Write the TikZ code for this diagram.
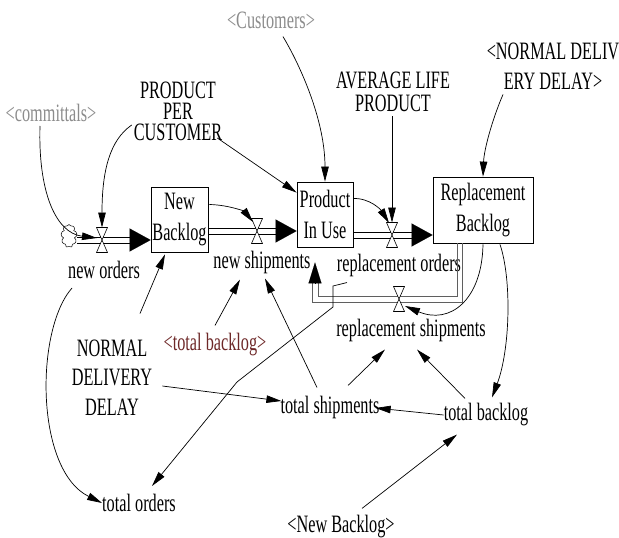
\documentclass[tikz,border=0pt]{standalone}
\usepackage{fontspec}
\setmainfont{Liberation Serif}[FakeStretch=0.65]
\usetikzlibrary{arrows.meta,shapes.symbols,calc}
\definecolor{shadowgray}{RGB}{140,140,140}
\definecolor{shadowred}{RGB}{110,40,40}
\definecolor{pipegray}{RGB}{95,95,95}
\begin{document}
\begin{tikzpicture}[x=1pt,y=-1pt,
  lbl/.style={font=\fontsize{25}{30}\selectfont, inner sep=0pt, align=center},
  stock/.style={draw, line width=0.8pt, font=\fontsize{25}{31}\selectfont, inner sep=0pt, align=center},
  info/.style={line width=0.7pt, -{Triangle[length=15pt,width=7.5pt]}},
  pipeline/.style={line width=0.9pt},
  flowtip/.style={line width=0.1pt, -{Triangle[length=21pt,width=23pt]}},
  flowtipnarrow/.style={line width=0.1pt, -{Triangle[length=21pt,width=13pt]}},
  valve/.pic={\draw[fill=white, line width=0.6pt] (-5.5,-12.5) -- (5.5,-12.5) -- (0,0) -- cycle (-5.5,12.5) -- (5.5,12.5) -- (0,0) -- cycle;}
]
\useasboundingbox (0,0) rectangle (619,538);
\fill[white] (0,0) rectangle (619,538);

% stocks
\node[stock, minimum width=57pt, minimum height=65pt] (nb) at (179.5,219.5) {New\\Backlog};
\node[stock, minimum width=56pt, minimum height=65pt] (piu) at (325,214.5) {Product\\In Use};
\node[stock, minimum width=100pt, minimum height=66pt] (rb) at (483,210) {Replacement\\Backlog};
\node[cloud, draw, cloud puffs=9, aspect=0.7, minimum width=16pt, minimum height=23pt, inner sep=0pt, line width=0.5pt] (cl) at (69,236) {};

% valves
\coordinate (v1) at (102,240);
\coordinate (v2) at (257,231);
\coordinate (v3) at (392,235);
\coordinate (v4) at (399,299);

% labels
\node[lbl, text=shadowgray] (cm) at (51,113) {<committals>};
\node[lbl, text=shadowgray] (cu) at (271,20) {<Customers>};
\node[lbl, font=\fontsize{25}{21}\selectfont] (ppc) at (178,111) {PRODUCT\\PER\\CUSTOMER};
\node[lbl, font=\fontsize{25}{23}\selectfont] (alp) at (393,92) {AVERAGE LIFE\\PRODUCT};
\node[lbl] (ndd2) at (553,66) {<NORMAL DELIV\\ERY DELAY>};
\node[lbl] (no) at (104,270) {new orders};
\node[lbl] (ns) at (262,262) {new shipments};
\node[lbl] (ro) at (399,265) {replacement orders};
\node[lbl] (rs) at (411,330) {replacement shipments};
\node[lbl, text=shadowred] (tbs) at (215,345) {<total backlog>};
\node[lbl, font=\fontsize{25}{29.5}\selectfont] (ndd) at (112,377.5) {NORMAL\\DELIVERY\\DELAY};
\node[lbl] (ts) at (330,407) {total shipments};
\node[lbl] (tb) at (486,415) {total backlog};
\node[lbl] (to) at (139,503) {total orders};
\node[lbl] (nbs) at (341,527) {<New Backlog>};

% pipes (two parallel lines each)
\draw[pipeline] ($(cl.east |- v1)+(0,-3)$) -- ($(nb.west |- v1)+(-20,-3)$);
\draw[pipeline] ($(cl.east |- v1)+(0,3)$) -- ($(nb.west |- v1)+(-20,3)$);
\draw[flowtip] ($(nb.west |- v1)+(-21,0)$) -- (nb.west |- v1);
\draw[pipeline] ($(nb.east |- v2)+(0,-3)$) -- ($(piu.west |- v2)+(-20,-3)$);
\draw[pipeline] ($(nb.east |- v2)+(0,3)$) -- ($(piu.west |- v2)+(-20,3)$);
\draw[flowtip] ($(piu.west |- v2)+(-21,0)$) -- (piu.west |- v2);
\draw[pipeline] ($(piu.east |- v3)+(0,-3)$) -- ($(rb.west |- v3)+(-20,-3)$);
\draw[pipeline] ($(piu.east |- v3)+(0,3)$) -- ($(rb.west |- v3)+(-20,3)$);
\draw[flowtip] ($(rb.west |- v3)+(-21,0)$) -- (rb.west |- v3);
\draw[pipeline, draw=pipegray] ($(rb.south)+(-21,0)$) -- ($(rb.south |- v4)+(-21,3)$) -- ($(piu.south |- v4)+(-13,3)$) -- ($(piu.south)+(-13,35)$);
\draw[pipeline, draw=pipegray] ($(rb.south)+(-26,0)$) -- ($(rb.south |- v4)+(-26,-3)$) -- ($(piu.south |- v4)+(-7,-3)$) -- ($(piu.south)+(-7,35)$);
\draw[flowtipnarrow] ($(piu.south)+(-10,36)$) -- ($(piu.south)+(-10,15)$);

\pic at (v1) {valve};
\pic at (v2) {valve};
\pic at (v3) {valve};
\pic at (v4) {valve};

% information links
\draw[info] ($(cm.south)+(-11,4)$) .. controls (38,190) and (55,233) .. ($(v1)+(-5,-2)$);
\draw[info] ($(ppc.west)+(-2,14)$) .. controls (110,140) and (102,170) .. ($(v1)+(0,-12.5)$);
\draw[info] ($(ppc.east)+(-5,27)$) -- ($(piu.north west)+(0,11)$);
\draw[info] ($(cu.south)+(12,8)$) .. controls (300,65) and (325,120) .. (piu.north);
\draw[info] ($(alp.south -| v3)+(0,4)$) -- ($(v3)+(0,-12.5)$);
\draw[info] ($(ndd2.south)+(-50,5)$) .. controls (492,120) and (484,150) .. (rb.north);
\draw[info] ($(nb.east)+(1,-15)$) .. controls (230,205) and (245,212) .. ($(v2)+(-4,-9)$);
\draw[info] ($(piu.east)+(0,-16)$) .. controls (370,198) and (381,210) .. ($(v3)+(-3,-12)$);
\draw[info] ($(ndd.north)+(28,-26)$) -- ($(nb.south)+(-14.5,2)$);
\draw[info] ($(ndd.east)+(10,8.5)$) -- ($(ts.west)+(1,-6)$);
\draw[info] ($(tbs.north)+(0,-8)$) -- ($(ns.south)+(-22,6)$);
\draw[info] ($(ts.north)+(-13,-8)$) -- ($(ns.south)+(3,5)$);
\draw[info] ($(ts.north)+(18,-10)$) -- ($(rs.south)+(-26,8)$);
\draw[info] ($(tb.north)+(-21,-5)$) -- ($(rs.south)+(6,8)$);
\draw[info] (tb.west) -- ($(ts.east)+(-4,1)$);
\draw[info] ($(nbs.north)+(21,-7)$) -- ($(tb.south)+(-29,8)$);
\draw[info] ($(rb.south)+(17,1)$) .. controls (512,280) and (510,350) .. ($(tb.north)+(6,-6)$);
\draw[info] ($(rb.south)+(0,1)$) .. controls (482,300) and (450,325) .. ($(v4)+(6,7)$);
\draw[info] ($(no.south)+(-32,9)$) .. controls (35,330) and (35,470) .. (to.west);
\draw[info] ($(ro.south)+(-52,6)$) -- (333,286) -- (333,307) -- (237,382) -- ($(to.north)+(13,-8)$);
\end{tikzpicture}
\end{document}
